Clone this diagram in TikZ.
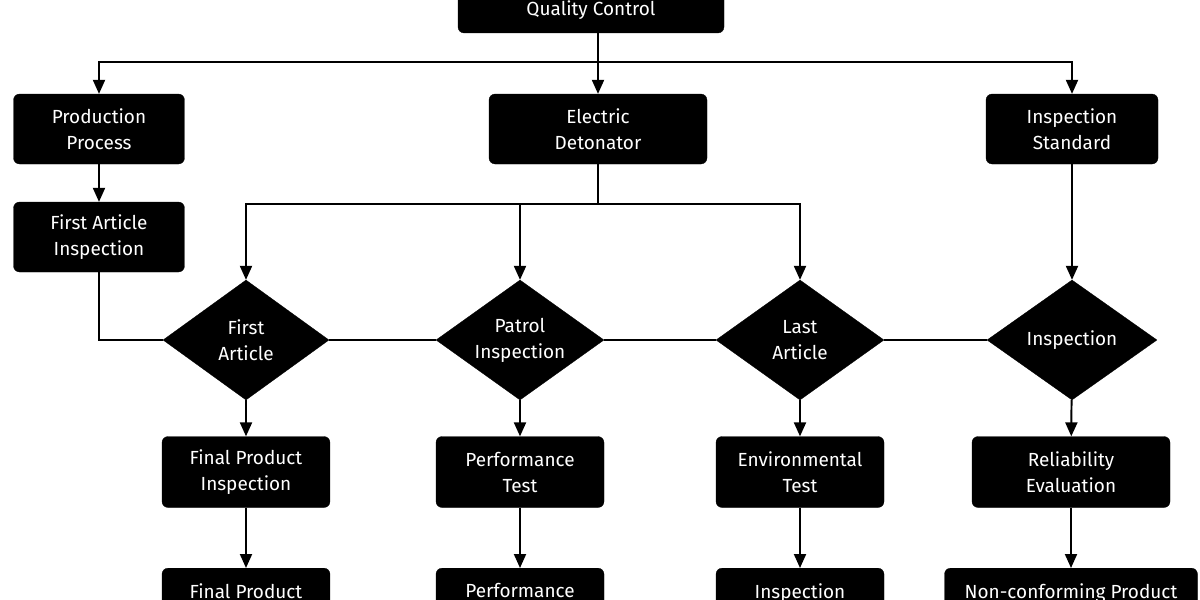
\documentclass[tikz,border=0pt]{standalone}
\usepackage{fontspec}
\setmainfont{Fira Sans}
\usetikzlibrary{shapes.geometric,arrows.meta}
\tikzset{
  box/.style={draw=black, fill=black, rounded corners=0.3cm, text=white, align=center,
    font=\fontsize{27}{37}\selectfont, inner sep=0pt},
  dia/.style={diamond, draw=black, fill=black, text=white, align=center,
    font=\fontsize{27}{37}\selectfont, inner sep=0pt, aspect=1.4},
  link/.style={line width=2.8pt},
  arr/.style={link, -{Triangle[length=0.7cm, width=0.6cm]}}
}
\begin{document}
\begin{tikzpicture}[x=0.05cm, y=-0.05cm]
  \useasboundingbox (0,0) rectangle (1200,600);
  % top level
  \node[box, minimum width=13.3cm, minimum height=2.3cm] (qc) at (591,10) {Quality Control};
  \node[box, minimum width=8.55cm, minimum height=3.5cm] (pp) at (99,129) {Production\\Process};
  \node[box, minimum width=10.9cm, minimum height=3.5cm] (ed) at (598,129) {Electric\\Detonator};
  \node[box, minimum width=8.6cm, minimum height=3.5cm] (is) at (1072,129) {Inspection\\Standard};
  \node[box, minimum width=8.55cm, minimum height=3.5cm] (fai) at (99,237) {First Article\\Inspection};
  % diamonds
  \node[dia, minimum width=8.3cm, minimum height=6.0cm] (fa) at (246,340) {First\\Article};
  \node[dia, minimum width=8.4cm, minimum height=6.0cm] (pi) at (520,340) {Patrol\\Inspection};
  \node[dia, minimum width=8.4cm, minimum height=6.0cm] (la) at (800,340) {Last\\Article};
  \node[dia, minimum width=8.5cm, minimum height=6.0cm] (in) at (1072,340) {Inspection};
  % third row
  \node[box, minimum width=8.4cm, minimum height=3.55cm] (fpi) at (246,472) {Final Product\\Inspection};
  \node[box, minimum width=8.4cm, minimum height=3.55cm] (pt) at (520,472) {Performance\\Test};
  \node[box, minimum width=8.4cm, minimum height=3.55cm] (et) at (800,472) {Environmental\\Test};
  \node[box, minimum width=9.9cm, minimum height=3.55cm] (re) at (1071,472) {Reliability\\Evaluation};
  % fourth row
  \node[box, minimum width=8.4cm, minimum height=3.55cm, anchor=north] (fp) at (246,568) {Final Product\\\phantom{X}};
  \node[box, minimum width=8.4cm, minimum height=3.55cm, anchor=north] (pf) at (520,568) {Performance\\\phantom{X}};
  \node[box, minimum width=8.4cm, minimum height=3.55cm, anchor=north] (ip) at (800,568) {Inspection\\\phantom{X}};
  \node[box, minimum width=12.65cm, minimum height=3.55cm, anchor=north] (nc) at (1071,568) {Non-conforming Product\\\phantom{X}};
  % connectors
  \coordinate (qcb) at (598,62);
  \draw[link] (qc.south -| qcb) -- (qcb);
  \draw[arr] (qcb) -| (pp.north);
  \draw[arr] (qcb) -| (is.north);
  \draw[arr] (qcb) -- (ed.north);
  \draw[arr] (pp) -- (fai);
  \draw[link] (fai.south) |- (fa.west);
  \draw[link] (fa.east) -- (pi.west);
  \draw[link] (pi.east) -- (la.west);
  \draw[link] (la.east) -- (in.west);
  \coordinate (edb) at (598,204);
  \draw[link] (ed.south) -- (edb);
  \draw[arr] (edb) -| (fa.north);
  \draw[arr] (edb) -| (la.north);
  \draw[arr] (edb -| pi.north) -- (pi.north);
  \draw[arr] (is) -- (in);
  \foreach \a/\b/\c in {fa/fpi/fp, pi/pt/pf, la/et/ip, in/re/nc} {
    \draw[arr] (\a) -- (\b);
    \draw[arr] (\b) -- (\c);
  }
\end{tikzpicture}
\end{document}
